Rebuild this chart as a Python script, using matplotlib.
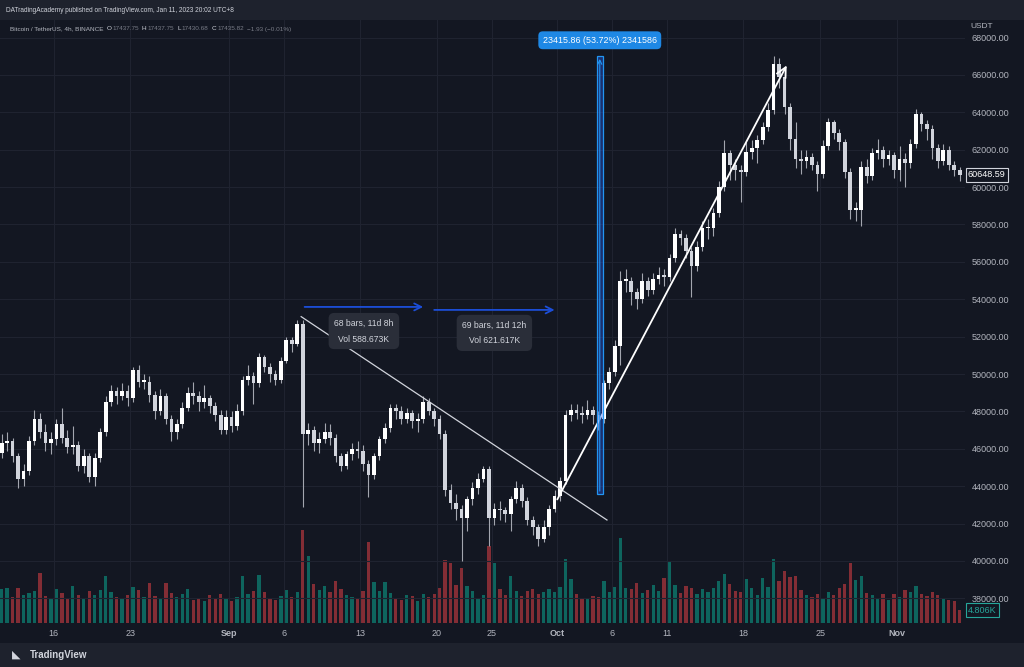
import numpy as np
import pandas as pd
import matplotlib
matplotlib.use('Agg')
import matplotlib.pyplot as plt
import matplotlib.dates as mdates
from matplotlib.patches import Rectangle
from matplotlib.ticker import FuncFormatter

plt.rcParams['font.family'] = ['Liberation Sans', 'DejaVu Sans']

# BTC/USDT, 12h candles, prices in thousands of USDT
candle_start = '2021-08-11 00:00'
first_open = 45.8
closes = [46.3, 46.4, 45.6, 44.4, 44.8, 46.4, 47.6, 46.9, 46.3, 46.5,
          47.3, 46.6, 46.1, 46.2, 45.1, 45.6, 44.5, 45.5, 46.9, 48.5,
          49.1, 48.8, 49.1, 48.7, 50.2, 49.6, 49.6, 48.9, 48.0, 48.8,
          47.6, 46.9, 47.3, 48.2, 49.0, 48.8, 48.5, 48.7, 48.3, 47.8,
          47.0, 47.7, 47.2, 48.0, 49.7, 49.9, 49.5, 50.9, 50.4, 50.0,
          49.7, 50.7, 51.8, 51.6, 52.7, 46.8, 47.0, 46.3, 46.5, 46.9,
          46.6, 45.6, 45.1, 45.7, 46.0, 45.9, 45.2, 44.6, 45.6, 46.5,
          47.1, 48.2, 48.0, 47.6, 47.9, 47.5, 47.6, 48.5, 48.0, 47.6,
          46.8, 43.8, 43.1, 42.8, 42.3, 43.3, 43.9, 44.4, 44.9, 42.3,
          42.8, 42.7, 42.5, 43.3, 43.9, 43.2, 42.2, 41.8, 41.2, 41.8,
          42.8, 43.5, 44.3, 47.8, 48.1, 47.9, 47.8, 48.1, 47.8, 47.6,
          49.5, 50.1, 51.5, 55.0, 55.0, 54.4, 54.0, 55.0, 54.5, 55.1,
          55.3, 55.2, 56.2, 57.5, 57.3, 56.6, 55.8, 56.8, 57.8, 57.8,
          58.6, 60.0, 61.8, 61.2, 60.9, 60.8, 61.9, 62.1, 62.5, 63.2,
          64.1, 66.6, 65.9, 64.3, 62.6, 61.5, 61.4, 61.6, 61.2, 60.7,
          62.2, 63.5, 62.9, 62.4, 60.8, 58.8, 58.8, 61.1, 60.6, 61.8,
          62.0, 61.5, 61.7, 60.9, 61.5, 61.3, 62.3, 63.9, 63.4, 63.1,
          62.1, 61.4, 62.0, 61.2, 60.9, 60.649]
highs = [46.8, 46.9, 46.6, 45.8, 45.2, 46.7, 48.1, 47.9, 47.3, 46.9,
         47.6, 48.2, 47.0, 47.2, 46.4, 46.0, 45.8, 45.8, 47.1, 48.8,
         49.4, 49.3, 49.5, 49.4, 50.4, 50.5, 50.0, 49.9, 49.1, 49.2,
         49.0, 47.8, 47.6, 48.5, 49.3, 49.6, 49.1, 49.4, 48.9, 48.5,
         48.1, 48.1, 48.0, 48.4, 49.9, 50.5, 50.1, 51.1, 51.0, 50.6,
         50.2, 50.9, 52.0, 52.0, 52.9, 52.9, 47.4, 47.2, 46.9, 47.4,
         47.3, 46.8, 45.8, 45.9, 46.3, 46.4, 46.2, 45.4, 45.8, 46.7,
         47.4, 48.4, 48.4, 48.3, 48.2, 48.1, 47.9, 48.8, 48.7, 48.2,
         47.8, 47.0, 44.1, 43.6, 43.0, 43.5, 44.2, 44.7, 45.1, 45.1,
         43.1, 43.2, 42.9, 43.5, 44.3, 44.1, 43.4, 42.4, 42.0, 42.2,
         43.0, 43.8, 44.5, 48.1, 48.4, 48.4, 48.3, 48.6, 48.3, 48.0,
         49.7, 50.4, 51.8, 55.5, 55.6, 55.2, 54.6, 55.4, 55.2, 55.4,
         55.7, 55.6, 56.4, 57.8, 57.7, 57.5, 56.8, 57.1, 58.2, 58.3,
         58.9, 60.3, 62.5, 62.0, 61.5, 61.2, 62.4, 62.5, 62.8, 63.5,
         64.5, 67.0, 66.9, 66.2, 64.5, 63.5, 62.0, 62.0, 61.8, 61.4,
         62.5, 63.7, 63.6, 63.1, 62.6, 61.0, 59.2, 61.4, 61.5, 62.1,
         62.6, 62.2, 62.0, 61.9, 62.2, 61.8, 62.6, 64.2, 64.0, 63.6,
         63.3, 62.3, 62.3, 62.2, 61.4, 61.1]
lows = [45.5, 45.9, 45.3, 43.9, 44.0, 44.6, 46.2, 46.6, 45.9, 45.7,
        46.2, 46.3, 45.8, 45.7, 44.8, 44.7, 44.2, 44.0, 45.3, 46.7,
        48.3, 48.4, 48.6, 48.3, 48.5, 49.3, 49.2, 48.5, 47.6, 47.8,
        47.3, 46.4, 46.5, 47.1, 48.0, 48.4, 48.0, 48.2, 47.9, 47.5,
        46.8, 46.8, 46.9, 47.0, 47.8, 49.4, 48.4, 49.3, 50.1, 49.6,
        49.4, 49.5, 50.6, 51.2, 51.5, 42.9, 46.2, 45.9, 45.8, 46.3,
        46.2, 45.3, 44.8, 44.9, 45.4, 45.5, 44.8, 43.4, 44.4, 45.4,
        46.3, 46.9, 47.6, 47.3, 47.4, 47.1, 46.9, 47.4, 47.8, 47.2,
        46.5, 43.5, 42.8, 42.2, 40.0, 41.6, 43.0, 43.6, 44.2, 40.8,
        41.9, 42.2, 42.1, 41.6, 43.1, 42.9, 41.9, 41.4, 40.8, 41.0,
        41.4, 42.6, 43.2, 44.1, 47.5, 47.6, 47.4, 47.6, 47.3, 47.0,
        47.4, 49.2, 49.9, 50.5, 54.4, 53.7, 53.5, 53.8, 54.2, 54.3,
        54.8, 54.7, 55.0, 56.0, 56.9, 56.2, 54.1, 55.5, 56.6, 57.2,
        57.4, 58.4, 59.8, 60.4, 60.4, 59.2, 60.6, 61.5, 61.3, 62.3,
        63.0, 63.9, 65.3, 63.9, 62.0, 61.0, 60.7, 61.0, 60.9, 59.8,
        60.5, 62.0, 62.6, 62.0, 60.5, 58.3, 58.2, 57.9, 60.2, 60.4,
        61.5, 61.1, 61.2, 60.5, 60.3, 60.0, 61.0, 62.1, 63.0, 62.5,
        61.5, 61.0, 61.2, 60.9, 60.6, 60.3]
# volume in thousands of BTC
volumes = [12.5, 13.0, 9.5, 12.8, 10.2, 11.0, 12.0, 18.5, 10.0, 8.8,
           12.6, 11.0, 9.4, 13.5, 10.2, 9.0, 11.8, 10.5, 12.2, 17.4,
           11.5, 9.8, 8.7, 10.4, 13.2, 12.1, 9.5, 14.8, 10.0, 8.9,
           14.8, 11.2, 9.6, 10.8, 12.5, 8.4, 9.2, 8.0, 10.4, 9.0,
           10.6, 9.3, 8.2, 9.7, 17.4, 10.9, 12.0, 17.8, 11.5, 9.4,
           8.6, 10.1, 12.3, 9.8, 11.6, 34.4, 24.8, 14.5, 12.2, 13.8,
           11.4, 15.5, 12.6, 10.3, 9.6, 8.9, 11.9, 30.0, 15.2, 12.0,
           15.2, 11.0, 9.4, 8.6, 10.2, 9.9, 8.3, 10.8, 9.5, 10.6,
           12.8, 23.3, 22.2, 14.1, 20.3, 13.5, 11.7, 9.2, 10.5, 28.5,
           22.2, 12.6, 10.4, 17.4, 11.8, 10.0, 11.9, 12.4, 10.6, 11.3,
           12.7, 11.5, 13.2, 23.7, 16.3, 10.8, 9.4, 8.9, 10.1, 9.7,
           15.5, 11.6, 13.4, 31.5, 13.0, 12.4, 14.8, 11.0, 12.2, 13.9,
           11.8, 16.6, 22.9, 14.0, 11.2, 13.8, 12.9, 10.7, 12.5, 11.4,
           12.8, 15.5, 18.1, 14.5, 12.0, 11.3, 16.3, 12.8, 10.5, 16.6,
           13.2, 23.7, 15.6, 19.2, 16.9, 17.4, 12.1, 10.2, 9.5, 10.8,
           9.2, 11.6, 10.4, 12.9, 14.3, 22.2, 16.0, 17.4, 11.0, 10.3,
           9.1, 10.7, 8.4, 10.9, 9.6, 12.2, 11.4, 13.7, 10.8, 9.9,
           11.3, 10.5, 9.0, 8.6, 8.1, 4.806]

tick_dates = ['2021-08-16', '2021-08-23', '2021-09-01', '2021-09-06', '2021-09-13', '2021-09-20',
              '2021-09-25', '2021-10-01', '2021-10-06', '2021-10-11', '2021-10-18', '2021-10-25', '2021-11-01']
tick_labels = ['16', '23', 'Sep', '6', '13', '20', '25', 'Oct', '6', '11', '18', '25', 'Nov']
month_labels = ['Sep', 'Oct', 'Nov']
price_ticks = list(range(38, 70, 2))
x_range = ['2021-08-11 02:24', '2021-11-07 05:30']
price_range_k = [36.68, 68.94]

# drawings (time, price in thousands)
trend_line = [('2021-09-07 14:30', 53.07), ('2021-10-05 12:45', 42.19)]
rise_arrow = [('2021-09-30 21:00', 43.16), ('2021-10-22 01:30', 66.64)]
date_range_1 = [('2021-09-07 16:00', 53.59), ('2021-09-19 00:00', 53.59)]
date_range_2 = [('2021-09-19 12:00', 53.43), ('2021-10-01 00:00', 53.43)]
date_range_1_text = '68 bars, 11d 8h\nVol 588.673K'
date_range_2_text = '69 bars, 11d 12h\nVol 621.617K'
price_measure = [('2021-10-04 14:00', 43.59), ('2021-10-05 04:00', 67.006)]
price_measure_text = '23415.86 (53.72%) 2341586'
last_price = 60648.59
last_volume = 4.806
header_text = 'DATradingAcademy published on TradingView.com, Jan 11, 2023 20:02 UTC+8'
legend_parts = [('Bitcoin / TetherUS, 4h, BINANCE', 'name'), ('O', 'key'), ('17437.75', 'val'),
                ('H', 'key'), ('17437.75', 'val'), ('L', 'key'), ('17430.68', 'val'),
                ('C', 'key'), ('17435.82', 'val'), ('\u22121.93 (\u22120.01%)', 'val')]

# colours
bg = '#131722'
panel = '#1e222d'
grid_c = '#1f2330'
text_c = '#b2b5be'
up_c, down_c, wick_c = '#ffffff', '#d1d4dc', '#a3a6af'
vol_up, vol_down = '#0e655e', '#832d35'
legend_cols = {'name': '#b2b5be', 'key': '#d1d4dc', 'val': '#787b86'}


def dnum(s):
    return mdates.date2num(pd.Timestamp(s))


starts = pd.date_range(candle_start, periods=len(closes), freq='12h')
centers = mdates.date2num(starts + pd.Timedelta(hours=6))
c = np.array(closes)
o = np.array([first_open] + closes[:-1])
up = c >= o

fig = plt.figure(figsize=(10.24, 6.67), dpi=100, facecolor=bg)
pos = [0, 44 / 667, 965 / 1024, 603 / 667]
vax = fig.add_axes(pos)
ax = fig.add_axes(pos, sharex=vax)
vax.set_facecolor(bg)
ax.patch.set_visible(False)

# volume
vax.bar(centers, volumes, width=0.3, color=np.where(up, vol_up, vol_down), linewidth=0)
vax.set_ylim(0, 223)
vax.tick_params(left=False, labelleft=False, bottom=False, labelbottom=False)
for s in vax.spines.values():
    s.set_visible(False)

# candles
ax.vlines(centers, lows, highs, color=wick_c, lw=0.8, zorder=3)
ax.bar(centers, np.maximum(np.abs(c - o), 0.06), width=0.34, bottom=np.minimum(o, c),
       color=np.where(up, up_c, down_c), linewidth=0, zorder=4)

ax.set_xlim(dnum(x_range[0]), dnum(x_range[1]))
ax.set_ylim(*price_range_k)
ax.set_xticks([dnum(d) for d in tick_dates])
ax.set_xticklabels(tick_labels)
for lbl in ax.get_xticklabels():
    if lbl.get_text() in month_labels:
        lbl.set_fontweight('bold')
ax.set_yticks(price_ticks)
ax.yaxis.set_major_formatter(FuncFormatter(lambda v, p: f'{v * 1000:.2f}'))
ax.yaxis.tick_right()
ax.tick_params(axis='both', length=0, colors=text_c, labelsize=6.5)
ax.tick_params(axis='y', pad=5)
ax.tick_params(axis='x', pad=4)
ax.grid(True, color=grid_c, lw=0.8, zorder=0)
for s in ax.spines.values():
    s.set_visible(False)

# descending trend line and rising arrow
ax.plot([dnum(p[0]) for p in trend_line], [p[1] for p in trend_line], color='#d1d4dc', lw=0.9, zorder=5)
ax.annotate('', xy=(dnum(rise_arrow[1][0]), rise_arrow[1][1]),
            xytext=(dnum(rise_arrow[0][0]), rise_arrow[0][1]),
            arrowprops=dict(arrowstyle='->,head_length=0.7,head_width=0.35', color='#ffffff', lw=1.3), zorder=6)

# date ranges
for rng, txt, dy in [(date_range_1, date_range_1_text, 1.29), (date_range_2, date_range_2_text, 1.23)]:
    x0, x1 = dnum(rng[0][0]), dnum(rng[1][0])
    ax.annotate('', xy=(x1, rng[1][1]), xytext=(x0, rng[0][1]),
                arrowprops=dict(arrowstyle='->,head_length=0.5,head_width=0.25', color='#1c4ed8', lw=1.3), zorder=6)
    ax.text((x0 + x1) / 2, rng[0][1] - dy, txt, ha='center', va='center', fontsize=6.2,
            color='#d1d4dc', linespacing=2.0, zorder=7,
            bbox=dict(boxstyle='round,pad=0.65', fc='#2a2e39', ec='none'))

# price range measure
px0, px1 = dnum(price_measure[0][0]), dnum(price_measure[1][0])
lo, hi = price_measure[0][1], price_measure[1][1]
ax.add_patch(Rectangle((px0, lo), px1 - px0, hi - lo, fc=(0.16, 0.38, 1.0, 0.35), ec='#2196f3', lw=0.9, zorder=6))
ax.annotate('', xy=((px0 + px1) / 2, hi), xytext=((px0 + px1) / 2, lo),
            arrowprops=dict(arrowstyle='->,head_length=0.3,head_width=0.15', color='#2196f3', lw=0.8), zorder=6)
ax.text((px0 + px1) / 2, hi + 0.85, price_measure_text, ha='center', va='center', fontsize=6.4,
        color='white', zorder=7, bbox=dict(boxstyle='round,pad=0.5', fc='#1e88e5', ec='none'))

# last price / last volume tags on the axis
ax.annotate(f'{last_price:.2f}', xy=(1.0, last_price / 1000), xycoords=('axes fraction', 'data'),
            xytext=(2, 0), textcoords='offset points', ha='left', va='center', fontsize=6.5, color='white',
            bbox=dict(boxstyle='square,pad=0.25', fc=bg, ec='#d1d4dc', lw=0.8), annotation_clip=False)
vax.annotate(f'{last_volume:.3f}K', xy=(1.0, last_volume), xycoords=('axes fraction', 'data'),
             xytext=(2, 0), textcoords='offset points', ha='left', va='center', fontsize=6.5, color='#26a69a',
             bbox=dict(boxstyle='square,pad=0.25', fc=bg, ec='#26a69a', lw=0.8), annotation_clip=False)

# header / footer
fig.patches.append(Rectangle((0, 647 / 667), 1, 20 / 667, transform=fig.transFigure, fc=panel, ec='none', zorder=-1))
fig.patches.append(Rectangle((0, 0), 1, 24 / 667, transform=fig.transFigure, fc=panel, ec='none', zorder=-1))
fig.text(6 / 1024, 1 - 10 / 667, header_text, fontsize=4.7, color='#d1d4dc', va='center')

renderer = fig.canvas.get_renderer()
xp = 10
for txt, kind in legend_parts:
    t = fig.text(xp / 1024, 1 - 29 / 667, txt, fontsize=4.6, color=legend_cols[kind], va='center')
    xp += t.get_window_extent(renderer).width + (1 if kind == 'key' else 3)

fig.text(970 / 1024, 1 - 26 / 667, 'USDT', fontsize=6, color=text_c, va='center')
fig.text(30 / 1024, 1 - 655 / 667, 'TradingView', fontsize=7, color='#d1d4dc', va='center', fontweight='bold')
fig.text(12 / 1024, 1 - 655 / 667, '\u25e3', fontsize=8, color='#d1d4dc', va='center')

fig.savefig('out.png', dpi=100, facecolor=bg)
